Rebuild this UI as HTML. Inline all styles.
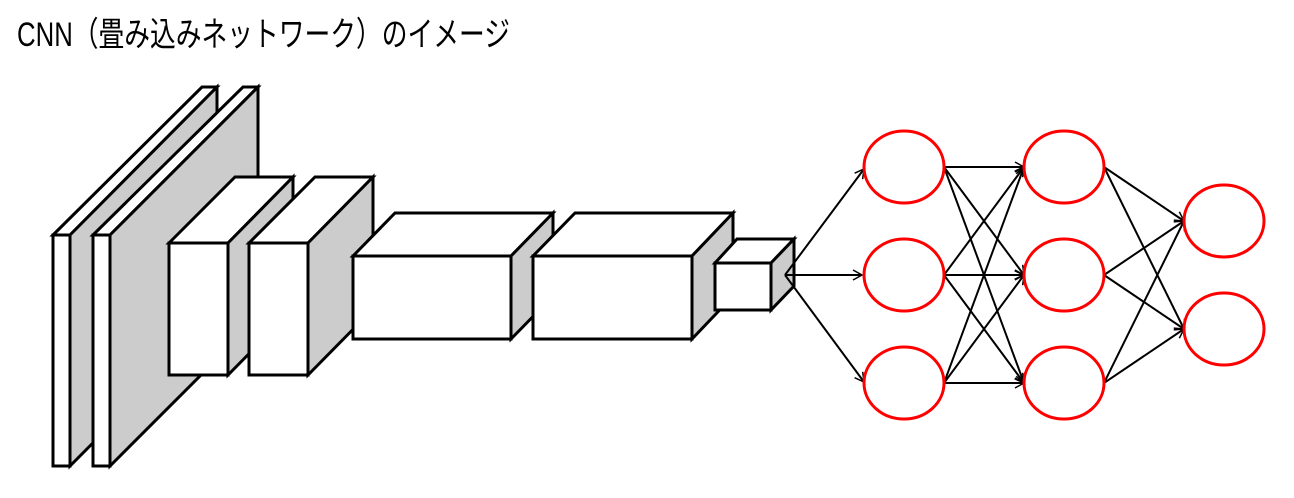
<!DOCTYPE html>
<html><head><meta charset="utf-8"><style>html,body{margin:0;padding:0;background:#fff;}svg{display:block}</style></head>
<body>
<svg width="1294" height="498" viewBox="0 0 1294 498" xmlns="http://www.w3.org/2000/svg">
<defs><marker id="a" markerWidth="12" markerHeight="12" refX="10" refY="6" orient="auto" markerUnits="userSpaceOnUse"><path d="M1,1 L10,6 L1,11" fill="none" stroke="#000" stroke-width="1.5"/></marker></defs>
<text x="17" y="46" font-family="'Liberation Sans','Noto Sans CJK JP',sans-serif" font-size="34" textLength="493" lengthAdjust="spacingAndGlyphs">CNN（畳み込みネットワーク）のイメージ</text>
<g stroke="#000" stroke-width="3" stroke-linejoin="miter">
<polygon points="53,235 202,87 217,87 70,235" fill="#fff"/>
<polygon points="70,235 217,87 217,318 70,466" fill="#ccc"/>
<rect x="53" y="235" width="17" height="231" fill="#fff"/>
<polygon points="93,235 243,87 258,87 110,235" fill="#fff"/>
<polygon points="110,235 258,87 258,318 110,466" fill="#ccc"/>
<rect x="93" y="235" width="17" height="231" fill="#fff"/>
<polygon points="169,243 235,177 293,177 228,243" fill="#fff"/>
<polygon points="228,243 293,177 293,309 228,375" fill="#ccc"/>
<rect x="169" y="243" width="59" height="132" fill="#fff"/>
<polygon points="249,243 315,177 373,177 308,243" fill="#fff"/>
<polygon points="308,243 373,177 373,309 308,375" fill="#ccc"/>
<rect x="249" y="243" width="59" height="132" fill="#fff"/>
<polygon points="353,256 395,213 553,213 511,256" fill="#fff"/>
<polygon points="511,256 553,213 553,296 511,339" fill="#ccc"/>
<rect x="353" y="256" width="158" height="83" fill="#fff"/>
<polygon points="533,256 575,213 733,213 692,256" fill="#fff"/>
<polygon points="692,256 733,213 733,296 692,339" fill="#ccc"/>
<rect x="533" y="256" width="159" height="83" fill="#fff"/>
<polygon points="715,263 737,239 794,239 771,263" fill="#fff"/>
<polygon points="771,263 794,239 794,286 771,310" fill="#ccc"/>
<rect x="715" y="263" width="56" height="47" fill="#fff"/>
</g>
<g stroke="#000" stroke-width="2" fill="none" marker-end="url(#a)">
<line x1="785" y1="275" x2="864" y2="169"/>
<line x1="785" y1="275" x2="862" y2="275"/>
<line x1="785" y1="275" x2="864" y2="382"/>
<line x1="944" y1="167" x2="1024" y2="167"/><line x1="944" y1="167" x2="1024" y2="275"/><line x1="944" y1="167" x2="1024" y2="383"/>
<line x1="944" y1="275" x2="1024" y2="167"/><line x1="944" y1="275" x2="1024" y2="275"/><line x1="944" y1="275" x2="1024" y2="383"/>
<line x1="944" y1="383" x2="1024" y2="167"/><line x1="944" y1="383" x2="1024" y2="275"/><line x1="944" y1="383" x2="1024" y2="383"/>
<line x1="1104" y1="167" x2="1184" y2="221"/><line x1="1104" y1="167" x2="1184" y2="329"/>
<line x1="1104" y1="275" x2="1184" y2="221"/><line x1="1104" y1="275" x2="1184" y2="329"/>
<line x1="1104" y1="383" x2="1184" y2="221"/><line x1="1104" y1="383" x2="1184" y2="329"/>
</g>
<g stroke="#f00" stroke-width="3" fill="#fff">
<ellipse cx="904" cy="167" rx="40" ry="36"/><ellipse cx="904" cy="275" rx="40" ry="36"/><ellipse cx="904" cy="383" rx="40" ry="36"/>
<ellipse cx="1064" cy="167" rx="40" ry="36"/><ellipse cx="1064" cy="275" rx="40" ry="36"/><ellipse cx="1064" cy="383" rx="40" ry="36"/>
<ellipse cx="1224" cy="221" rx="40" ry="36"/><ellipse cx="1224" cy="329" rx="40" ry="36"/>
</g>
</svg>
</body></html>
